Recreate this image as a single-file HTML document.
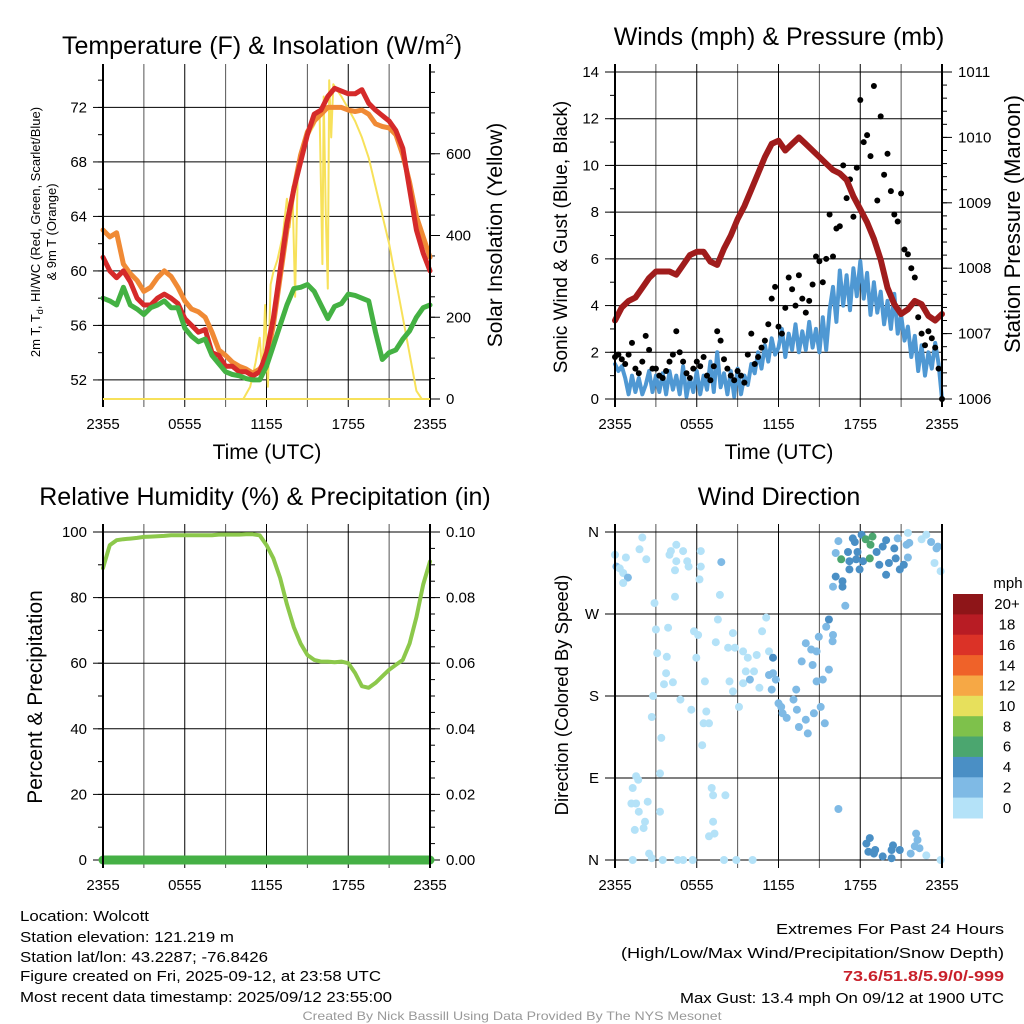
<!DOCTYPE html>
<html><head><meta charset="utf-8"><style>
html,body{margin:0;padding:0;background:#fff}
svg{display:block;font-family:"Liberation Sans",sans-serif}
</style></head><body>
<svg id="s" width="1024" height="1024" viewBox="0 0 1024 1024" xmlns="http://www.w3.org/2000/svg"></svg>
<script>
// ---------- DATA ----------
const hours = [];  // 0..24 step 0.5 (2355 -> 2355)
for (let i = 0; i <= 48; i++) hours.push(i * 0.5);
const qHours = []; // step 0.25
for (let i = 0; i <= 96; i++) qHours.push(i * 0.25);
const timeTickLabels = ["2355", "0555", "1155", "1755", "2355"];

const temp2m = [61,60,59.5,60,59.2,58,57.5,57.5,58,58.3,58,57.6,56.5,56,55.5,55.7,54,53.8,53,53,52.6,52.6,52.3,52.6,54,56.5,60,63.5,66,68,70,71.5,71.8,72.8,73.4,73.2,73,73,73.3,72.3,71.8,71.4,71,70.3,69,66,63,61.3,60];
const temp9m = [63,62.5,62.8,60.5,59.8,59.3,58.5,58.8,59.5,60,59.6,58.8,57.8,57.2,57,56.6,55.5,54.2,53.8,53.3,53,52.8,52.5,52.8,53.5,56,59.5,63,66,68.5,70.2,71,71.5,72,72,72,71.8,71.7,71.8,71.5,70.8,70.6,70.5,70,68.5,66.5,64,62.5,61];
const dewpoint = [58,57.8,57.5,58.8,57.5,57.2,56.8,57.3,57.5,57.8,57.3,57.3,55.8,55.2,54.8,55,53.8,53.2,52.6,52.4,52.3,52.1,52,52,53,54.5,56,57.5,58.7,58.8,59,58.5,57.5,56.5,57.4,57.6,58.3,58.2,58,57.8,55.5,53.5,54,54.2,55,55.6,56.6,57.3,57.5];
const solarTimes = [0,10.3,10.8,11.2,11.5,11.7,11.9,12.1,12.3,12.5,12.8,13.2,13.5,13.7,13.9,14.1,14.3,14.5,15,15.5,15.9,16.1,16.2,16.35,16.5,16.6,16.75,16.9,17.1,17.5,18,18.5,19,19.5,20,20.5,21,21.5,22,22.5,23,23.4,24];
const solarValues = [0,0,30,90,150,60,230,30,280,310,340,400,490,420,520,250,560,600,640,670,700,330,740,450,270,780,640,770,760,740,710,680,640,590,520,450,380,290,200,110,20,0,0];
const sonicWind = [1.5,1.2,1.4,0.9,0.2,1.0,0.3,0.9,0.2,0.6,1.2,0.3,1.0,0.3,1.1,0.2,1.2,0.4,1.0,0.2,1.4,0.1,0.9,0.3,1.2,0.2,1.0,0.4,1.6,0.3,2.0,0.5,1.1,0.2,1.2,0.1,1.3,0.2,1.0,0.6,1.5,1.1,2.0,1.3,2.3,1.6,2.6,1.9,2.2,3.0,1.8,2.8,2.1,3.2,2.0,2.9,2.1,3.3,2.2,3.0,2.0,3.5,2.1,3.8,4.8,3.3,5.5,4.0,5.3,3.8,5.6,4.4,5.9,4.3,5.4,3.6,5.0,3.7,4.6,3.2,4.2,3.0,4.5,2.8,3.6,2.5,3.1,1.8,2.7,1.2,2.3,1.0,2.0,1.3,2.4,1.5,0];
const gusts = [1.8,1.9,1.7,1.5,1.9,2.4,1.3,1.1,1.6,2.7,2.1,1.3,1.3,1.0,0.9,1.2,1.6,1.9,2.9,2.0,1.6,1.1,0.9,1.3,1.6,1.4,1.8,1.0,0.8,1.4,2.9,2.5,1.7,1.3,1.0,0.8,1.2,1.0,0.7,1.9,2.8,1.5,1.8,2.2,2.5,3.2,4.3,4.8,3.1,2.8,3.9,5.2,4.7,4.0,5.3,4.3,3.7,4.2,4.9,6.1,5.9,5.0,6.0,7.9,6.1,7.3,7.4,10.0,8.6,9.4,7.8,9.9,12.8,11.0,11.3,10.4,13.4,8.5,12.1,9.6,10.5,8.9,7.9,7.6,8.8,6.4,6.2,5.6,5.2,3.5,2.8,2.3,2.9,2.6,2.2,1.3,0];
const pressure = [1007.2,1007.4,1007.5,1007.55,1007.7,1007.85,1007.95,1007.95,1007.95,1007.9,1008.05,1008.2,1008.25,1008.25,1008.1,1008.05,1008.3,1008.5,1008.75,1008.95,1009.2,1009.45,1009.7,1009.9,1009.95,1009.8,1009.9,1010.0,1009.9,1009.8,1009.7,1009.6,1009.5,1009.45,1009.35,1009.1,1008.9,1008.7,1008.45,1008.13,1007.7,1007.45,1007.3,1007.37,1007.5,1007.45,1007.27,1007.2,1007.3];
const humidity = [89,96,97.5,97.8,98,98.2,98.5,98.6,98.7,98.8,99,99,99,99,99,99,99,99.2,99.2,99.2,99.2,99.3,99.3,99,96,92,86,78,71,66,62.5,61,60.5,60.5,60.3,60.5,60,57,53,52.5,54,56,58,59.5,61,66,74,84,91];
const precip = hours.map(() => 0);
const dirTimes = [0,0.1,0.35,0.6,0.95,0.8,0.6,2.0,1.8,2.3,2.9,3.0,3.1,3.8,3.75,3.6,4.25,2.8,2.7,3.4,3.3,3.3,3.9,4.4,4.1,4.0,4.5,5.0,4.5,5.3,5.4,4.4,6.3,6.3,6.2,4.8,5.6,5.8,6.1,5.97,6.6,6.7,6.5,6.9,6.4,7.8,7.7,7.55,7.4,8.3,8.65,8.8,8.4,8.65,9.1,9.4,9.75,9.6,9.4,9.9,10.4,10.2,10.6,11.1,10.8,11.3,11.6,11.3,11.6,11.8,11.5,12,12.2,12.3,12.6,13.1,13.3,13.35,13.5,13.7,14.0,14.4,14.5,14.8,14.96,14.0,14.15,14.6,15.1,15.4,14.8,15.25,15.7,15.5,15.7,16.0,15.97,16.4,16.0,16.2,16.7,16.7,16.9,16.4,16.2,16.6,17.1,17.2,17.2,17.45,17.6,17.8,17.7,17.95,18.1,18.2,18.4,18.9,18.75,18.7,19.2,19.4,19.65,19.9,20.1,19.9,20.5,20.75,20.6,20.9,21.2,21.4,21.6,21.5,21.5,22.5,22.85,23.2,23.6,23.7,23.45,23.9,18.45,18.7,18.6,19.0,19.1,19.65,20.3,20.4,20.3,20.9,21.7,22.0,22.1,22.2,22.35,22.85,23.9,1.3,1.55,1.7,1.3,1.2,1.55,1.75,2.4,2.2,1.45,2.1,2.5,2.7,3.5,4.6,5.0,5.7,7.1,7.2,8.1,7.2,6.9,7.3,8.0,8.9,10.1];
const dirDegrees = [335,322,320,315,310,332,304,354,341,330,282,253,227,223,205,193,195,180,157,134,95,53,255,289,339,335,346,339,328,328,322,318,339,322,308,176,165,251,247,222,196,163,150,150,126,327,291,264,239,233,249,233,196,185,168,229,222,207,194,198,225,207,189,266,251,229,222,203,205,198,187,172,168,161,156,176,187,165,146,218,238,231,214,229,245,154,139,161,168,150,196,198,209,256,264,247,240,56,300,311,300,306,279,350,337,330,338,328,319,353,349,338,330,319,357,328,352,355,346,331,338,324,344,351,326,313,342,353,331,319,324,346,348,359,332,352,357,349,342,344,326,317,18,24,9,7,11,4,2,16,11,11,7,15,29,22,13,5,0,0,92,88,79,62,62,53,64,42,33,35,7,2,0,0,0,0,79,71,71,42,26,29,0,0,0];
const dirSpeeds = [1,3,1,1,3,1,1,1,1,1,1,1,1,1,1,1,1,1,1,1,1,1,1,1,1,1,1,1,1,1,1,1,1,1,1,1,1,1,1,1,1,1,1,1,1,3,1,1,1,1,1,1,1,1,1,1,1,1,1,3,1,1,1,1,1,1,5,3,3,3,3,3,3,3,3,3,3,3,3,3,3,3,3,3,3,3,3,3,3,3,3,3,3,3,5,3,3,3,3,5,5,5,3,3,3,7,5,5,5,5,5,5,5,5,5,5,7,7,7,7,5,5,5,5,5,5,5,3,5,5,5,3,3,1,3,1,1,3,3,3,1,1,5,5,5,5,5,5,5,5,5,5,3,3,3,3,3,1,1,1,1,1,1,1,1,1,1,1,1,1,1,1,1,1,1,1,1,1,1,1,1,1,1,1,1];
const speedBinLabels = ["20+","18","16","14","12","10","8","6","4","2","0"];
const speedBinColors = ["#8e1518","#b81c24","#db3227","#ef6229","#f6a845","#e7e05c","#7ec14b","#4ba66f","#4a8fc5","#7fbae5","#b4e2f8"];

// ---------- HELPERS ----------
const S = document.getElementById('s');
const NS = 'http://www.w3.org/2000/svg';
function el(tag, attrs, parent) {
  const e = document.createElementNS(NS, tag);
  for (const k in attrs) e.setAttribute(k, attrs[k]);
  (parent || S).appendChild(e);
  return e;
}
function txt(str, x, y, size, anchor, parent, extra) {
  const t = el('text', Object.assign({x: x, y: y, 'font-size': size, 'text-anchor': anchor || 'middle', fill: '#000'}, extra || {}), parent);
  t.textContent = str;
  return t;
}
function scale(d0, d1, r0, r1) { return v => r0 + (v - d0) / (d1 - d0) * (r1 - r0); }

function panel(name, X0, X1, Y0, Y1) {
  const g = el('g', {});
  
  
  const xs = scale(0, 24, X0, X1);
  for (let i = 0; i <= 8; i++) {
    const x = xs(i * 3);
    const l = el('line', {x1: x, x2: x, y1: Y0 - 8, y2: Y1 + 8, stroke: i % 2 ? '#555' : '#000', 'stroke-width': 1}, g);
    
    
  }
  for (let i = 0; i < timeTickLabels.length; i++) {
    const t = txt(timeTickLabels[i], xs(i * 6), Y1 + 30, 15, 'middle', g);
    
    
  }
  return {g, xs};
}
function yAxis(g, X0, X1, Y0, Y1, d0, d1, majors, minors, fmt, side, grid) {
  const ys = scale(d0, d1, Y1, Y0);
  const xa = side === 'left' ? X0 : X1;
  const dir = side === 'left' ? -1 : 1;
  minors.forEach(v => {
    const y = ys(v);
    const m = el('line', {x1: xa, x2: xa + dir * 5, y1: y, y2: y, stroke: '#000', 'stroke-width': 1}, g);
    
    
  });
  majors.forEach(v => {
    const y = ys(v);
    if (grid) {
      const gl = el('line', {x1: X0, x2: X1, y1: y, y2: y, stroke: '#000', 'stroke-width': 1}, g);
      
      
    }
    const tk = el('line', {x1: xa, x2: xa + dir * 10, y1: y, y2: y, stroke: '#000', 'stroke-width': 1}, g);
    
    
    const t = txt(fmt(v), side === 'left' ? xa - 16 : xa + 16, y + 5, 15, side === 'left' ? 'end' : 'start', g);
    
    
  });
  return ys;
}
function frame(g, X0, X1, Y0, Y1) {
  const a = el('line', {x1: X0, x2: X0, y1: Y0 - 8, y2: Y1 + 8, stroke: '#000', 'stroke-width': 2}, g);
  
  
  const b = el('line', {x1: X1, x2: X1, y1: Y0 - 8, y2: Y1 + 8, stroke: '#000', 'stroke-width': 2}, g);
  
  
}
function linePath(g, xsArr, ysArr, xs, ys, color, w, name) {
  let d = '';
  xsArr.forEach((t, i) => { d += (i ? 'L' : 'M') + xs(t).toFixed(1) + ',' + ys(ysArr[i]).toFixed(1); });
  const p = el('path', {d: d, fill: 'none', stroke: color, 'stroke-width': w, 'stroke-linejoin': 'round', 'stroke-linecap': 'round'}, g);
  
  
  return p;
}
function rotText(str, x, y, size, g, name) {
  const t = txt(str, x, y, size, 'middle', g, {transform: 'rotate(-90 ' + x + ' ' + y + ')'});
  
  
  return t;
}
function range(a, b, s) { const r = []; for (let v = a; v <= b + 1e-9; v += s) r.push(+v.toFixed(4)); return r; }

// ---------- PANEL 1: Temperature ----------
(function () {
  const X0 = 103, X1 = 430, Y0 = 72, Y1 = 399;
  const {g, xs} = panel('temperature-panel', X0, X1, Y0, Y1);
  const ys = yAxis(g, X0, X1, Y0, Y1, 50.6, 74.6, range(52, 72, 4), range(52, 74, 2), v => String(v), 'left', true);
  const ys2 = yAxis(g, X0, X1, Y0, Y1, 0, 800, range(0, 600, 200), range(0, 800, 50), v => String(v), 'right', false);
  const t = txt('Temperature (F) & Insolation (W/m', 262, 54, 25, 'middle', g);
  
  
  const sup = el('tspan', {'font-size': 15, dy: -10}, t); sup.textContent = '2';
  const cl = el('tspan', {'font-size': 25, dy: 10}, t); cl.textContent = ')';
  linePath(g, solarTimes, solarValues, xs, ys2, '#f7e15a', 2, 'solar-insolation-line');
  linePath(g, hours, temp9m, xs, ys, '#f08a35', 5, 'temp-9m-line');
  linePath(g, hours, temp2m, xs, ys, '#d52a2a', 5, 'temp-2m-line');
  linePath(g, hours, dewpoint, xs, ys, '#44b143', 5, 'dewpoint-line');
  frame(g, X0, X1, Y0, Y1);
  const base = el('line', {x1: X0, x2: X1, y1: Y1, y2: Y1, stroke: '#f7e15a', 'stroke-width': 2}, g);
  
  
  const lt = txt('', 40, 232, 13, 'middle', g, {transform: 'rotate(-90 40 232)'});
  
  
  const a1 = el('tspan', {}, lt); a1.textContent = '2m T, T';
  const a2 = el('tspan', {'font-size': 9, dy: 3}, lt); a2.textContent = 'd';
  const a3 = el('tspan', {dy: -3}, lt); a3.textContent = ', HI/WC (Red, Green, Scarlet/Blue)';
  rotText('& 9m T (Orange)', 56, 232, 13, g, 'left-axis-title-line2');
  rotText('Solar Insolation (Yellow)', 502, 235, 21, g, 'right-axis-title');
  const xt = txt('Time (UTC)', 267, 459, 21, 'middle', g);
  
  
})();

// ---------- PANEL 2: Winds ----------
(function () {
  const X0 = 615, X1 = 942, Y0 = 72, Y1 = 399;
  const {g, xs} = panel('winds-panel', X0, X1, Y0, Y1);
  const ys = yAxis(g, X0, X1, Y0, Y1, 0, 14, range(0, 14, 2), range(0, 14, 1), v => String(v), 'left', true);
  const ys2 = yAxis(g, X0, X1, Y0, Y1, 1006, 1011, range(1006, 1011, 1), range(1006, 1011, 0.2), v => String(v), 'right', false);
  const t = txt('Winds (mph) & Pressure (mb)', 779, 45, 25, 'middle', g);
  
  
  linePath(g, qHours, sonicWind, xs, ys, '#4f98d3', 4, 'sonic-wind-line');
  gusts.forEach((v, i) => {
    const c = el('circle', {cx: xs(qHours[i]).toFixed(1), cy: ys(v).toFixed(1), r: 3, fill: '#000'}, g);
    
    
  });
  linePath(g, hours, pressure, xs, ys2, '#a01c1c', 6, 'pressure-line');
  frame(g, X0, X1, Y0, Y1);
  rotText('Sonic Wind & Gust (Blue, Black)', 567, 237, 19, g, 'left-axis-title');
  rotText('Station Pressure (Maroon)', 1020, 224, 22, g, 'right-axis-title');
  const xt = txt('Time (UTC)', 779, 459, 21, 'middle', g);
  
  
})();

// ---------- PANEL 3: Humidity ----------
(function () {
  const X0 = 103, X1 = 430, Y0 = 532, Y1 = 860;
  const {g, xs} = panel('humidity-panel', X0, X1, Y0, Y1);
  const ys = yAxis(g, X0, X1, Y0, Y1, 0, 100, range(0, 100, 20), range(0, 100, 10), v => String(v), 'left', true);
  const ys2 = yAxis(g, X0, X1, Y0, Y1, 0, 0.1, range(0, 0.1, 0.02), range(0, 0.1, 0.005), v => v.toFixed(2), 'right', false);
  const t = txt('Relative Humidity (%) & Precipitation (in)', 265, 505, 25, 'middle', g);
  
  
  linePath(g, hours, humidity, xs, ys, '#8cc84b', 4, 'humidity-line');
  linePath(g, hours, precip, xs, ys2, '#45b045', 9, 'precipitation-line');
  frame(g, X0, X1, Y0, Y1);
  rotText('Percent & Precipitation', 42, 697, 21, g, 'left-axis-title');
})();

// ---------- PANEL 4: Wind Direction ----------
(function () {
  const X0 = 615, X1 = 942, Y0 = 532, Y1 = 860;
  const {g, xs} = panel('wind-direction-panel', X0, X1, Y0, Y1);
  const ys = yAxis(g, X0, X1, Y0, Y1, 0, 360, range(0, 360, 90), [], v => ['N','E','S','W','N'][v / 90], 'left', true);
  const t = txt('Wind Direction', 779, 505, 25, 'middle', g);
  
  
  dirTimes.forEach((tm, i) => {
    const bin = Math.min(10, Math.floor(dirSpeeds[i] / 2));
    const c = el('circle', {cx: xs(tm).toFixed(1), cy: ys(dirDegrees[i]).toFixed(1), r: 4, fill: speedBinColors[10 - bin]}, g);
    
    
  });
  frame(g, X0, X1, Y0, Y1);
  rotText('Direction (Colored By Speed)', 568, 695, 18.5, g, 'left-axis-title');
  const cb = el('g', {}, g);
  
  
  const bh = (818 - 594) / speedBinLabels.length;
  speedBinLabels.forEach((lab, i) => {
    const r = el('rect', {x: 953, y: (594 + i * bh).toFixed(1), width: 30, height: (bh + 0.5).toFixed(1), fill: speedBinColors[i]}, cb);
    
    
    const tl = txt(lab, 1007, 594 + i * bh + bh / 2 + 5, 15, 'middle', cb);
    
    
  });
  const mph = txt('mph', 1008, 588, 15, 'middle', cb);
  
  
})();

// ---------- FOOTER ----------
(function () {
  const g = el('g', {});
  
  
  const lines = [
    ['Location: Wolcott', 921, 129],
    ['Station elevation: 121.219 m', 942, 214],
    ['Station lat/lon: 43.2287; -76.8426', 962, 248],
    ['Figure created on Fri, 2025-09-12, at 23:58 UTC', 981, 361],
    ['Most recent data timestamp: 2025/09/12 23:55:00', 1002, 372]
  ];
  lines.forEach(l => {
    const t = txt(l[0], 20, l[1], 15, 'start', g, {textLength: l[2], lengthAdjust: 'spacingAndGlyphs'});
    
    
  });
  const g2 = el('g', {});
  
  
  const r1 = txt('Extremes For Past 24 Hours', 1004, 934, 15, 'end', g2, {textLength: 228, lengthAdjust: 'spacingAndGlyphs'});
  
  
  const r2 = txt('(High/Low/Max Wind/Precipitation/Snow Depth)', 1004, 958, 15, 'end', g2, {textLength: 383, lengthAdjust: 'spacingAndGlyphs'});
  
  
  const r3 = txt('73.6/51.8/5.9/0/-999', 1004, 981, 15, 'end', g2, {textLength: 161, lengthAdjust: 'spacingAndGlyphs', fill: '#c8202a', 'font-weight': 'bold'});
  
  
  const r4 = txt('Max Gust: 13.4 mph On 09/12 at 1900 UTC', 1004, 1003, 15, 'end', g2, {textLength: 324, lengthAdjust: 'spacingAndGlyphs'});
  
  
  const c = txt('Created By Nick Bassill Using Data Provided By The NYS Mesonet', 512, 1020, 12, 'middle', S, {fill: '#999', textLength: 419, lengthAdjust: 'spacingAndGlyphs'});
  
  
})();
</script>
</body></html>
